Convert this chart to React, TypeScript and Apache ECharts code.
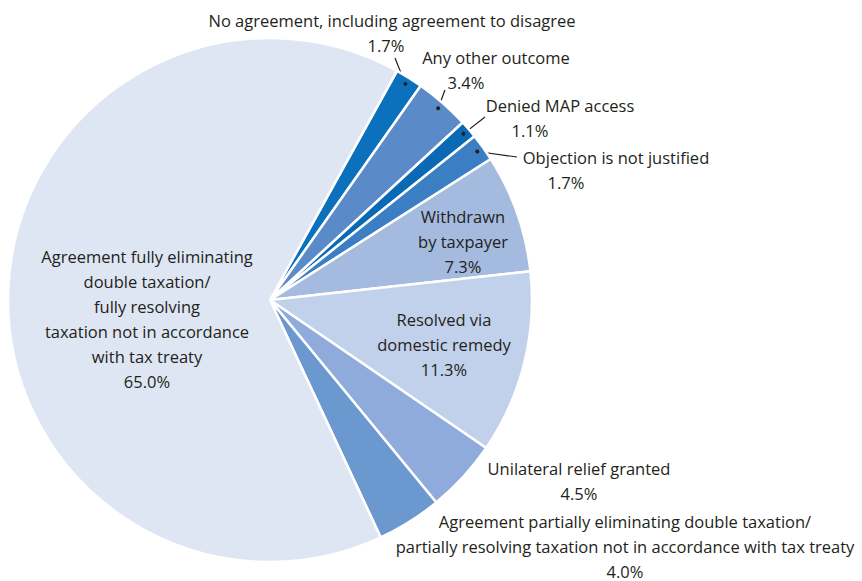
import React, { useEffect, useRef } from 'react';
import * as echarts from 'echarts';

// MAP case outcomes, listed clockwise from the top of the pie
const outcomes = [
  'No agreement, including agreement to disagree',
  'Any other outcome',
  'Denied MAP access',
  'Objection is not justified',
  'Withdrawn\nby taxpayer',
  'Resolved via\ndomestic remedy',
  'Unilateral relief granted',
  'Agreement partially eliminating double taxation/\npartially resolving taxation not in accordance with tax treaty',
  'Agreement fully eliminating\ndouble taxation/\nfully resolving\ntaxation not in accordance\nwith tax treaty',
];
const shares = [1.7, 3.4, 1.1, 1.7, 7.3, 11.3, 4.5, 4.0, 65.0];
const sliceColors = [
  '#0b71bc', '#5a8ac8', '#0a69b5', '#3b7ec3', '#a5badf',
  '#c2d1eb', '#8eabdb', '#6b98ce', '#dfe6f3',
];

// Layout
const CENTER: [number, number] = [270, 300];
const RADIUS = 262;
const START_ANGLE = 61; // echarts degrees (counter-clockwise from 3 o'clock)
const DOT_RADIUS = 255;
const TEXT_COLOR = '#231f20';
const FONT = 'Open Sans';
const FONT_SIZE = 16.5;
const LINE_HEIGHT = 25;
const labelSpots: [number, number][] = [
  [392, 33], [496, 69.5], [560, 117.5], [616, 169.5], [463, 241],
  [444, 344], [579, 481], [625, 546], [147, 319],
];
const pctShift = [6, 30, 30, 50, 0, 0, 0, 0, 0];
const insideLabel = [false, false, false, false, true, true, false, false, true];
const lineEnds: ([number, number] | null)[] = [
  [395, 58], [445, 90], [485, 117], [517, 157], null, null, null, null, null,
];

function anchorPoints(): [number, number][] {
  const total = shares.reduce((a, b) => a + b, 0);
  const from12 = 90 - START_ANGLE;
  let cum = 0;
  return shares.map((v) => {
    const theta = ((from12 + ((cum + v / 2) / total) * 360) * Math.PI) / 180;
    cum += v;
    return [CENTER[0] + DOT_RADIUS * Math.sin(theta), CENTER[1] - DOT_RADIUS * Math.cos(theta)];
  });
}

export default function App() {
  const ref = useRef<HTMLDivElement>(null);

  useEffect(() => {
    if (!ref.current) return;
    const chart = echarts.init(ref.current, undefined, { renderer: 'svg' });
    const anchors = anchorPoints();

    const data = shares.map((v, i) => ({
      value: v,
      name: outcomes[i],
      itemStyle: { color: sliceColors[i] },
      label: {
        position: insideLabel[i] ? 'inside' : 'outside',
        rich: {
          n: {
            fontFamily: FONT, fontSize: FONT_SIZE, color: TEXT_COLOR,
            lineHeight: LINE_HEIGHT, align: 'center',
          },
          p: {
            fontFamily: FONT, fontSize: FONT_SIZE, color: TEXT_COLOR,
            lineHeight: LINE_HEIGHT, align: 'center',
            padding: [0, pctShift[i] * 2, 0, 0],
          },
        },
      },
      labelLine: { show: !!lineEnds[i] },
    }));

    chart.setOption({
      animation: false,
      backgroundColor: '#ffffff',
      series: [
        {
          type: 'pie',
          center: CENTER,
          radius: [0, RADIUS],
          startAngle: START_ANGLE,
          clockwise: true,
          avoidLabelOverlap: false,
          itemStyle: { borderColor: '#ffffff', borderWidth: 2.5 },
          emphasis: { disabled: true },
          label: {
            show: true,
            formatter: (p: any) =>
              String(p.name)
                .split('\n')
                .map((l: string) => `{n|${l}}`)
                .join('\n') + `\n{p|${Number(p.value).toFixed(1)}%}`,
          },
          labelLine: {
            show: true,
            lineStyle: { color: TEXT_COLOR, width: 1.2 },
          },
          labelLayout: (params: any) => {
            const i = params.dataIndex;
            const [x, y] = labelSpots[i];
            const out: any = { x, y, align: 'center', verticalAlign: 'middle' };
            const end = lineEnds[i];
            if (end) out.labelLinePoints = [anchors[i], end, end];
            return out;
          },
          data,
        },
      ],
      graphic: anchors
        .map((pt, i) => (lineEnds[i] ? pt : null))
        .filter((pt) => pt !== null)
        .map((pt) => ({
          type: 'circle',
          z: 100,
          shape: { cx: (pt as number[])[0], cy: (pt as number[])[1], r: 2 },
          style: { fill: TEXT_COLOR },
        })),
    });

    return () => chart.dispose();
  }, []);

  return (
    <div
      ref={ref}
      style={{ position: 'absolute', left: 0, top: 0, width: 862, height: 581 }}
    />
  );
}
